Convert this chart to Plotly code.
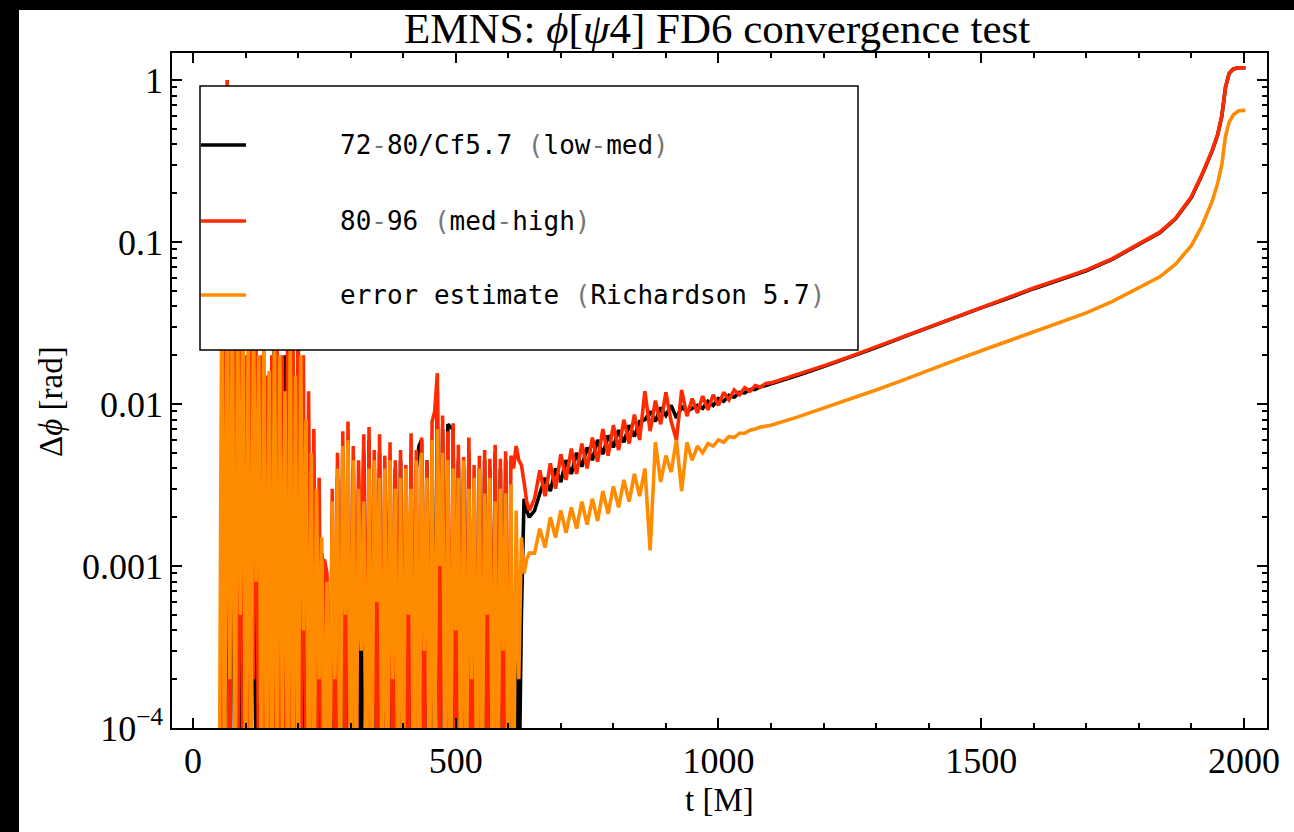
import plotly.graph_objects as go

# ---------------- data ----------------
t_noise = list(range(50, 641, 5))          # 50 .. 640
t_mid = list(range(650, 1101, 10))         # 650 .. 1100
t_tail = [1150, 1200, 1250, 1300, 1350, 1400, 1450, 1500, 1550, 1600, 1650, 1700,
          1750, 1800, 1840, 1870, 1900, 1920, 1940, 1950, 1958, 1965, 1972, 1980, 1990, 2003]

# 72-80/Cf5.7 (low-med)
low_med_noise = [
    3e-5, 3e-5, 3e-5, 0.03, 3e-5, 0.02, 3e-5, 0.04, 3e-5, 0.03,
    3e-5, 0.02, 3e-5, 0.03, 3e-5, 0.015, 3e-5, 0.0013, 0.0011, 3e-5,
    0.0013, 0.03, 3e-5, 0.015, 3e-5, 0.02, 3e-5, 0.01, 3e-5, 0.0005,
    3e-5, 0.01, 3e-5, 0.006, 3e-5, 0.004, 3e-5, 0.002, 3e-5, 0.0012,
    0.0009, 3e-5, 3e-5, 0.002, 3e-5, 0.0035, 3e-5, 0.005, 3e-5, 0.0055,
    3e-5, 0.004, 3e-5, 0.003, 3e-5, 0.005, 3e-5, 0.006, 3e-5, 0.004,
    3e-5, 0.005, 3e-5, 0.0035, 3e-5, 0.0045, 3e-5, 0.004, 3e-5, 0.0045,
    3e-5, 0.003, 3e-5, 0.005, 3e-5, 0.004, 0.0055, 0.006, 3e-5, 0.0045,
    3e-5, 0.0055, 3e-5, 0.012, 3e-5, 0.007, 3e-5, 0.0075, 0.0072, 0.007,
    3e-5, 0.0045, 3e-5, 0.004, 3e-5, 0.005, 3e-5, 0.0035, 3e-5, 0.004,
    3e-5, 0.0045, 3e-5, 0.004, 3e-5, 0.005, 3e-5, 0.004, 3e-5, 0.0045,
    3e-5, 0.0012, 3e-5, 0.0008, 3e-5, 0.0005, 0.0026, 0.0022, 0.0020,
]
low_med_mid = [
    0.0022, 0.0028, 0.0035, 0.0029, 0.0040, 0.0033, 0.0045, 0.0037, 0.0050, 0.0041,
    0.0054, 0.0045, 0.0060, 0.0049, 0.0064, 0.0054, 0.0069, 0.0058, 0.0074, 0.0063,
    0.0078, 0.0080, 0.0090, 0.0078, 0.0095, 0.0085, 0.0098, 0.0082, 0.0096, 0.0090,
    0.0094, 0.0098, 0.0094, 0.0104, 0.0098, 0.0108, 0.0104, 0.0113, 0.0110, 0.0118,
    0.0117, 0.0123, 0.0123, 0.0128, 0.0130, 0.0133,
]
low_med_tail = [0.0150, 0.0170, 0.0194, 0.0223, 0.0258, 0.0297, 0.0342, 0.0392, 0.0447, 0.0515,
                0.0585, 0.0665, 0.0785, 0.096, 0.114, 0.139, 0.188, 0.258, 0.368, 0.458,
                0.598, 0.90, 1.10, 1.17, 1.19, 1.19]

# 80-96 (med-high)
med_high_noise = [
    3e-5, 3e-5, 0.02, 1.0, 3e-5, 0.03, 0.05, 3e-5, 0.04, 3e-5,
    0.02, 3e-5, 0.03, 2e-4, 0.025, 3e-5, 0.02, 3e-5, 0.015, 3e-5,
    0.02, 3e-5, 0.025, 3e-5, 0.02, 3e-5, 0.03, 3e-5, 0.04, 3e-5,
    0.05, 3e-5, 0.02, 3e-5, 0.012, 3e-5, 0.007, 3e-5, 0.0035, 3e-5,
    0.0011, 0.0009, 3e-5, 0.003, 3e-5, 0.005, 3e-5, 0.0068, 3e-5, 0.0078,
    3e-5, 0.0055, 3e-5, 0.0045, 0.0008, 0.0065, 3e-5, 0.0072, 3e-5, 0.0052,
    3e-5, 0.0065, 3e-5, 0.0048, 2e-4, 0.0058, 3e-5, 0.0045, 3e-5, 0.0052,
    3e-5, 0.0042, 3e-5, 0.0066, 3e-5, 0.0052, 3e-5, 0.0062, 3e-5, 0.0045,
    3e-5, 0.0078, 0.009, 0.0155, 3e-5, 0.0085, 3e-5, 0.0068, 3e-5, 0.0076,
    3e-5, 0.0056, 3e-5, 0.0047, 3e-5, 0.0062, 3e-5, 0.0042, 3e-5, 0.0048,
    3e-5, 0.0052, 3e-5, 0.0046, 3e-5, 0.0056, 3e-5, 0.0046, 3e-5, 0.0051,
    3e-5, 0.0048, 0.004, 0.0055, 0.0045, 0.0042, 0.0033, 0.0025, 0.0022,
]
med_high_mid = [
    0.0026, 0.0039, 0.0027, 0.0043, 0.0030, 0.0049, 0.0034, 0.0053, 0.0037, 0.0057,
    0.0040, 0.0062, 0.0044, 0.0070, 0.0048, 0.0074, 0.0052, 0.0080, 0.0057, 0.0086,
    0.0060, 0.0120, 0.0068, 0.0105, 0.0075, 0.0118, 0.0078, 0.0060, 0.0122, 0.0084,
    0.0108, 0.0088, 0.0112, 0.0092, 0.0114, 0.0098, 0.0118, 0.0106, 0.0122, 0.0114,
    0.0126, 0.0120, 0.0130, 0.0127, 0.0134, 0.0135,
]
med_high_tail = [0.0152, 0.0172, 0.0196, 0.0225, 0.0260, 0.0300, 0.0345, 0.0395, 0.0450, 0.0520,
                 0.0590, 0.0670, 0.0790, 0.097, 0.115, 0.140, 0.190, 0.260, 0.370, 0.460,
                 0.600, 0.90, 1.10, 1.17, 1.19, 1.19]

# error estimate (Richardson 5.7)
error_noise = [
    3e-5, 0.08, 3e-5, 0.05, 2e-4, 0.04, 3e-5, 0.03, 5e-4, 0.05,
    3e-5, 0.025, 3e-5, 0.035, 8e-4, 0.02, 3e-5, 0.03, 3e-5, 0.016,
    3e-5, 0.03, 3e-5, 0.02, 1e-4, 0.012, 3e-5, 0.03, 3e-5, 0.015,
    3e-5, 0.02, 4e-4, 0.008, 3e-5, 0.005, 3e-5, 0.003, 2e-4, 0.0015,
    3e-5, 0.0008, 3e-5, 0.0025, 2e-4, 0.004, 3e-5, 0.0055, 5e-4, 0.006,
    3e-5, 0.0045, 3e-5, 0.003, 3e-4, 0.0025, 3e-5, 0.004, 3e-5, 0.0045,
    6e-4, 0.0035, 3e-5, 0.004, 3e-5, 0.0045, 2e-4, 0.003, 3e-5, 0.0035,
    3e-5, 0.004, 5e-4, 0.003, 3e-5, 0.0045, 3e-5, 0.005, 3e-4, 0.0035,
    3e-5, 0.006, 3e-5, 0.007, 1e-3, 0.005, 3e-5, 0.0045, 3e-5, 0.004,
    4e-4, 0.0035, 3e-5, 0.0045, 3e-5, 0.003, 2e-4, 0.0035, 3e-5, 0.004,
    3e-5, 0.0028, 5e-4, 0.0035, 3e-5, 0.0025, 3e-5, 0.003, 3e-4, 0.0028,
    3e-5, 0.0032, 3e-5, 0.0022, 2e-4, 0.0015, 0.0009, 0.0011, 0.0012,
]
error_mid = [
    0.0012, 0.0017, 0.0013, 0.0020, 0.0015, 0.0022, 0.0016, 0.0023, 0.0017, 0.0025,
    0.0018, 0.0026, 0.0019, 0.0029, 0.0021, 0.0031, 0.0023, 0.0034, 0.0025, 0.0037,
    0.0027, 0.0040, 0.00125, 0.0058, 0.0033, 0.0048, 0.0038, 0.0060, 0.0029, 0.0058,
    0.0045, 0.0055, 0.0050, 0.0057, 0.0055, 0.0060, 0.0058, 0.0063, 0.0062, 0.0066,
    0.0066, 0.0069, 0.0070, 0.0072, 0.0073, 0.0074,
]
error_tail = [0.0083, 0.0094, 0.0107, 0.0122, 0.0140, 0.0162, 0.0186, 0.0213, 0.0243, 0.0280,
              0.0320, 0.0365, 0.0430, 0.052, 0.061, 0.073, 0.095, 0.125, 0.180, 0.230,
              0.300, 0.45, 0.55, 0.61, 0.645, 0.65]

series_names = ["72-80/Cf5.7 (low-med)", "80-96 (med-high)", "error estimate (Richardson 5.7)"]
series_colors = ["#000000", "#ff2a00", "#ff8c00"]

y_tickvals = [1e-4, 1e-3, 1e-2, 0.1, 1]
y_ticktext = ["10<sup>\u22124</sup>", "0.001", "0.01", "0.1", "1"]

# ---------------- figure ----------------
t_all = t_noise + t_mid + t_tail
series_values = [
    low_med_noise + low_med_mid + low_med_tail,
    med_high_noise + med_high_mid + med_high_tail,
    error_noise + error_mid + error_tail,
]

fig = go.Figure()
for name, color, vals in zip(series_names, series_colors, series_values):
    fig.add_trace(go.Scatter(x=t_all, y=vals, mode="lines", name=name,
                             line=dict(color=color, width=3.6), showlegend=False))

W, H = 1294, 832
L, R, T, B = 172, 27, 53, 104
pw, ph = W - L - R, H - T - B


def px(x):
    return (x - L) / pw


def py(y):
    return (H - B - y) / ph


serif = "Liberation Serif, Times New Roman, serif"
mono = "DejaVu Sans Mono, monospace"

shapes = [
    # white page region (black frame around it)
    dict(type="rect", xref="paper", yref="paper", x0=px(19), x1=px(1300), y0=py(840), y1=py(10),
         fillcolor="white", line=dict(width=0), layer="below"),
    # legend box
    dict(type="rect", xref="paper", yref="paper", x0=px(200), x1=px(858), y0=py(350), y1=py(86),
         fillcolor="white", line=dict(color="black", width=1.5), layer="above"),
]
legend_y = [145, 221, 295]
annotations = []
gray = '<span style="color:#777">%s</span>'
legend_texts = [
    "72" + gray % "-" + "80/Cf5.7 " + gray % "(" + "low" + gray % "-" + "med" + gray % ")",
    "80" + gray % "-" + "96 " + gray % "(" + "med" + gray % "-" + "high" + gray % ")",
    "error estimate " + gray % "(" + "Richardson 5.7" + gray % ")",
]
for yy, color, txt in zip(legend_y, series_colors, legend_texts):
    shapes.append(dict(type="line", xref="paper", yref="paper", x0=px(201), x1=px(246),
                       y0=py(yy), y1=py(yy), line=dict(color=color, width=3.5), layer="above"))
    annotations.append(dict(xref="paper", yref="paper", x=px(338), y=py(yy), xanchor="left",
                            yanchor="middle", showarrow=False, text=txt,
                            font=dict(family=mono, size=26, color="black")))

annotations.append(dict(xref="paper", yref="paper", x=px(717), y=py(29), xanchor="center",
                        yanchor="middle", showarrow=False,
                        text="EMNS: <i>\u03d5</i>[<i>\u03c8</i>4] FD6 convergence test",
                        font=dict(family=serif, size=43, color="black")))
annotations.append(dict(xref="paper", yref="paper", x=px(719), y=py(800), xanchor="center",
                        yanchor="middle", showarrow=False, text="t [M]",
                        font=dict(family=serif, size=33, color="black")))
annotations.append(dict(xref="paper", yref="paper", x=px(51), y=py(402), xanchor="center",
                        yanchor="middle", showarrow=False, textangle=-90,
                        text="\u0394<i>\u03d5</i> [rad]",
                        font=dict(family=serif, size=33, color="black")))

fig.update_layout(
    width=W, height=H,
    margin=dict(l=L, r=R, t=T, b=B),
    paper_bgcolor="black", plot_bgcolor="white",
    shapes=shapes, annotations=annotations,
    showlegend=False,
)
axis_common = dict(showline=True, linecolor="black", linewidth=1.5, mirror="allticks",
                   ticks="inside", ticklen=10, tickwidth=1.5, tickcolor="black",
                   showgrid=False, zeroline=False,
                   tickfont=dict(family=serif, size=36, color="black"))
fig.update_xaxes(range=[-40, 2044], tick0=0, dtick=500,
                 minor=dict(ticks="inside", ticklen=5, tickwidth=1.5, tickcolor="black",
                            dtick=100, showgrid=False),
                 **axis_common)
fig.update_yaxes(type="log", range=[-4, 0.1667], tickmode="array",
                 tickvals=y_tickvals, ticktext=y_ticktext,
                 minor=dict(ticks="inside", ticklen=5, tickwidth=1.5, tickcolor="black",
                            dtick="D1", showgrid=False),
                 **axis_common)

fig.write_html("out.html", config={"displayModeBar": False},
               post_script="document.body.style.margin='0';document.body.style.background='black';")
